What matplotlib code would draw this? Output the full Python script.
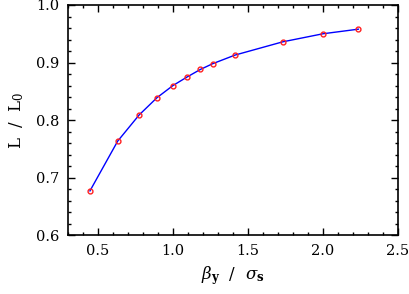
import matplotlib
matplotlib.use('Agg')
import matplotlib.pyplot as plt
from matplotlib.ticker import MultipleLocator

# data
beta_over_sigma = [0.447, 0.632, 0.775, 0.894, 1.0, 1.095, 1.183, 1.265, 1.414, 1.732, 2.0, 2.236]
lumi_ratio = [0.677, 0.7635, 0.809, 0.839, 0.860, 0.875, 0.888, 0.898, 0.913, 0.936, 0.950, 0.958]

plt.rcParams['font.family'] = 'DejaVu Serif'
plt.rcParams['mathtext.fontset'] = 'dejavuserif'

fig = plt.figure(figsize=(4.09, 2.94), dpi=100)
ax = fig.add_axes([0.166, 0.2, 0.807, 0.783])

ax.plot(beta_over_sigma, lumi_ratio, color='blue', lw=1.0, zorder=2)
ax.plot(beta_over_sigma, lumi_ratio, 'o', ms=3.5, mfc='none', mec='#ff2020', mew=1.0, zorder=3)

ax.set_xlim(0.3, 2.5)
ax.set_ylim(0.6, 1.0)
ax.xaxis.set_major_locator(MultipleLocator(0.5))
ax.xaxis.set_minor_locator(MultipleLocator(0.1))
ax.yaxis.set_major_locator(MultipleLocator(0.1))
ax.yaxis.set_minor_locator(MultipleLocator(0.02))
ax.xaxis.set_major_formatter(plt.FormatStrFormatter('%.1f'))
ax.yaxis.set_major_formatter(plt.FormatStrFormatter('%.1f'))

ax.tick_params(which='both', direction='in', top=True, right=True, width=1.0)
ax.tick_params(which='major', length=5, labelsize=10.5, pad=6)
ax.tick_params(which='minor', length=2.5)
for s in ax.spines.values():
    s.set_linewidth(1.2)

ax.set_xlabel(r'$\beta_\mathbf{y}$  /  $\sigma_\mathbf{s}$', fontsize=12, labelpad=5)
ax.set_ylabel(r'L  /  L$_0$', fontsize=12, labelpad=7)

fig.savefig('out.png', dpi=100)
